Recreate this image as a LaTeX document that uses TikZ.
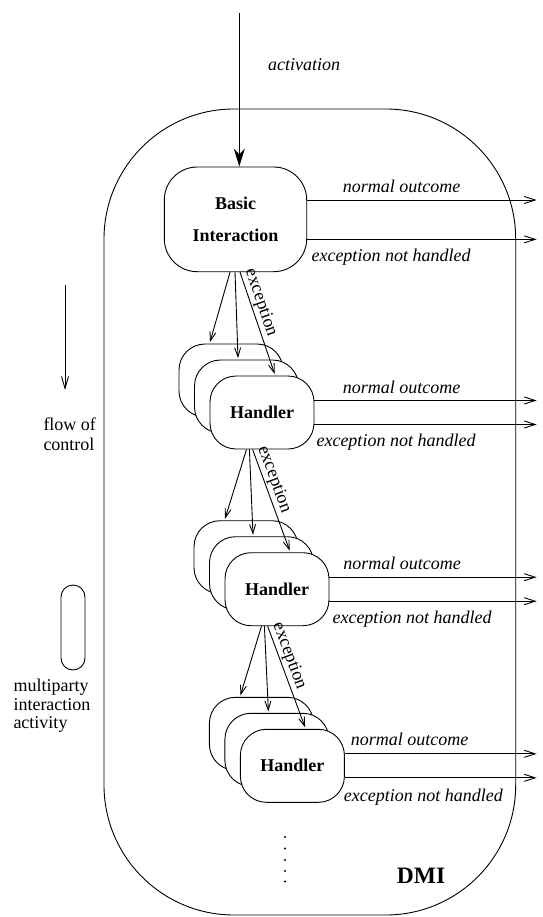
\documentclass[tikz,border=0pt]{standalone}
\usepackage{fontspec}
\setmainfont{Liberation Serif}
\usetikzlibrary{arrows.meta,calc}
\begin{document}
\begin{tikzpicture}[x=1pt,y=-1pt,
  every node/.style={font=\fontsize{18}{20}\selectfont, inner sep=0pt},
  thin line/.style={line width=0.9pt},
  outarr/.style={thin line, -{Straight Barb[length=11pt,width=7pt]}},
  exarr/.style={thin line, -{Straight Barb[length=9pt,width=6pt]}},
  hbox/.style={draw, thin line, fill=white, rounded corners=26pt,
    minimum width=104pt, minimum height=73pt,
    font=\bfseries\fontsize{18}{20}\selectfont},
  lbl/.style={anchor=base, font=\itshape\fontsize{18}{20}\selectfont},
  exlbl/.style={sloped, above, inner sep=1.5pt, font=\fontsize{18}{20}\selectfont}]
\useasboundingbox (0,0) rectangle (542,917);

% DMI boundary
\node[draw, thin line, rounded corners=130pt, minimum width=411.7pt,
  minimum height=806pt] (dmi) at (309.85,512) {};
\node[anchor=base, font=\bfseries\fontsize{23.5}{26}\selectfont] (dmilbl) at (421,883.3) {DMI};

% basic interaction
\node[draw, thin line, rounded corners=33pt, minimum width=142.4pt,
  minimum height=104.7pt, align=center,
  font=\bfseries\fontsize{18}{32}\selectfont] (bi) at (235.5,219.35) {Basic\\Interaction};

% activation
\coordinate (act) at (239.3,13);
\draw[thin line, -{Stealth[length=18pt,width=11pt]}] (act) -- (act |- bi.north);
\node[lbl] (actlbl) at (304,71) {activation};

% right border for outgoing arrows
\coordinate (rx) at (536.7,0);

% handler stacks
\foreach \i/\cx/\cy in {1/262/412.5, 2/277/589.2, 3/292.4/765.8} {
  \node[hbox] (hb\i) at (\cx-31,\cy-32) {};
  \node[hbox] (hm\i) at (\cx-15.5,\cy-16) {};
  \node[hbox] (hf\i) at (\cx,\cy) {Handler};
}

% exception arrows from basic interaction to first stack
\draw[exarr] ($(bi.south)+(-5.5,0)$) -- ($(hb1.north)+(-21,-1.5)$);
\draw[exarr] ($(bi.south)+(-0.5,0)$) -- ($(hm1.north)+(-8.5,-1.5)$);
\draw[exarr] ($(bi.south)+(4.5,0)$) -- node[exlbl, pos=0.33] {exception} ($(hf1.north)+(12.7,-1.5)$);

% exception arrows between stacks
\foreach \a/\b in {1/2, 2/3} {
  \draw[exarr] ($(hf\a.south)+(-15.5,0)$) -- ($(hb\b.north)+(-21,-1.5)$);
  \draw[exarr] ($(hf\a.south)+(-12.6,0)$) -- ($(hm\b.north)+(-8.5,-1.5)$);
  \draw[exarr] ($(hf\a.south)+(-9.4,0)$) -- node[exlbl, pos=0.33] {exception} ($(hf\b.north)+(12.7,-1.5)$);
}

% outcomes of basic interaction
\coordinate (bin) at ($(bi.east)+(0,-19.35)$);
\coordinate (bie) at ($(bi.east)+(0,20)$);
\draw[outarr] (bin) -- (bin -| rx);
\draw[outarr] (bie) -- (bie -| rx);
\node[lbl] (binl) at (401.5,192.7) {normal outcome};
\node[lbl] (biel) at (391,261) {exception not handled};

% outcomes of handlers
\foreach \i/\nx/\ny/\ex/\ey in {1/401.7/393.3/396/446, 2/402/569/412/623.3, 3/409.5/745.7/423.3/801.7} {
  \coordinate (hn\i) at ($(hf\i.east)+(0,-12)$);
  \coordinate (he\i) at ($(hf\i.east)+(0,12)$);
  \draw[outarr] (hn\i) -- (hn\i -| rx);
  \draw[outarr] (he\i) -- (he\i -| rx);
  \node[lbl] (hnl\i) at (\nx,\ny) {normal outcome};
  \node[lbl] (hel\i) at (\ex,\ey) {exception not handled};
}

% continuation dots
\foreach \y in {837,848.5,860,871,881.5}
  \fill (285,\y) circle (1.15pt);

% legend: flow of control
\coordinate (fa) at (65,285);
\coordinate (fb) at (65,390);
\draw[thin line, -{Straight Barb[length=12pt,width=7pt]}] (fa) -- (fb);
\node[anchor=base west] (fl1) at (43.3,430.7) {flow of};
\node[anchor=base west] (fl2) at (43.3,450.7) {control};

% legend: multiparty interaction activity
\node[draw, thin line, rounded corners=12pt, minimum width=24pt,
  minimum height=85pt] (pill) at (73,627.5) {};
\node[anchor=base west] (ml1) at (13.3,691.7) {multiparty};
\node[anchor=base west] (ml2) at (13.3,710.2) {interaction};
\node[anchor=base west] (ml3) at (13.3,728.5) {activity};
\end{tikzpicture}
\end{document}
